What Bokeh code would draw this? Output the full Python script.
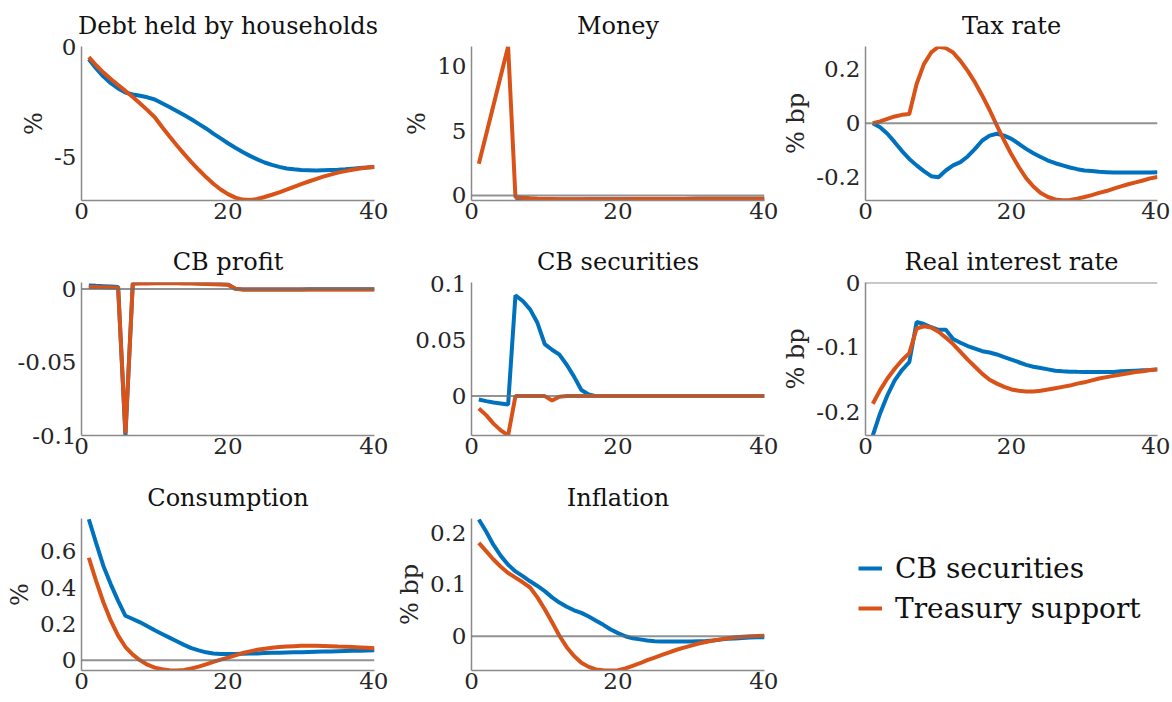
from bokeh.plotting import figure
from bokeh.models import Range1d, FixedTicker, PrintfTickFormatter, Span, Legend, LegendItem
from bokeh.layouts import column, row
from bokeh.embed import file_html
from bokeh.resources import INLINE

NaN = float("nan")

# ---------------- data ----------------
periods = list(range(1, 41))
series_names = ["CB securities", "Treasury support"]
x_ticks = [0, 20, 40]

debt_cb = [-0.58, -0.99, -1.36, -1.66, -1.90, -2.08, -2.17, -2.23, -2.30, -2.40,
           -2.57, -2.74, -2.92, -3.10, -3.29, -3.50, -3.71, -3.94, -4.16, -4.38,
           -4.58, -4.77, -4.95, -5.11, -5.25, -5.36, -5.45, -5.52, -5.56, -5.59,
           -5.60, -5.61, -5.60, -5.59, -5.58, -5.56, -5.53, -5.50, -5.48, -5.45]
debt_ts = [-0.48, -0.85, -1.18, -1.47, -1.74, -2.01, -2.29, -2.58, -2.88, -3.20,
           -3.64, -4.06, -4.47, -4.86, -5.23, -5.58, -5.91, -6.21, -6.47, -6.68,
           -6.84, -6.93, -6.95, -6.90, -6.81, -6.71, -6.60, -6.48, -6.35, -6.23,
           -6.11, -6.00, -5.89, -5.80, -5.71, -5.64, -5.58, -5.52, -5.48, -5.44]

money_cb = [NaN, NaN, NaN, NaN, NaN, -0.38, -0.36, -0.35, -0.34, -0.33,
            -0.33, -0.32, -0.32, -0.31, -0.31, -0.30, -0.30, -0.30, -0.29, -0.29,
            -0.29, -0.28, -0.28, -0.28, -0.28, -0.27, -0.27, -0.27, -0.27, -0.26,
            -0.26, -0.26, -0.26, -0.26, -0.25, -0.25, -0.25, -0.25, -0.25, -0.25]
money_ts = [2.46, 4.73, 7.00, 9.28, 11.55, -0.13, -0.18, -0.22, -0.25, -0.27,
            -0.28, -0.29, -0.30, -0.30, -0.30, -0.30, -0.30, -0.30, -0.29, -0.29,
            -0.29, -0.28, -0.28, -0.28, -0.28, -0.27, -0.27, -0.27, -0.27, -0.27,
            -0.26, -0.26, -0.26, -0.26, -0.26, -0.25, -0.25, -0.25, -0.25, -0.25]

tax_cb = [0.0, -0.015, -0.039, -0.070, -0.103, -0.132, -0.156, -0.177, -0.196, -0.200,
          -0.175, -0.156, -0.144, -0.123, -0.095, -0.064, -0.046, -0.039, -0.046, -0.058,
          -0.076, -0.095, -0.111, -0.125, -0.138, -0.148, -0.156, -0.164, -0.170, -0.175,
          -0.177, -0.180, -0.181, -0.182, -0.182, -0.182, -0.182, -0.182, -0.182, -0.181]
tax_ts = [0.0, 0.007, 0.016, 0.025, 0.031, 0.034, 0.145, 0.219, 0.262, 0.283,
          0.278, 0.262, 0.231, 0.194, 0.151, 0.102, 0.049, -0.009, -0.064, -0.116,
          -0.162, -0.203, -0.234, -0.258, -0.273, -0.282, -0.285, -0.284, -0.279, -0.273,
          -0.266, -0.258, -0.251, -0.242, -0.234, -0.226, -0.219, -0.212, -0.204, -0.199]

profit_cb = [0.0025, 0.0022, 0.0020, 0.0018, 0.0015, -0.1000, 0.0040, 0.0042, 0.0043, 0.0044,
             0.0045, 0.0045, 0.0044, 0.0043, 0.0041, 0.0040, 0.0038, 0.0036, 0.0034, 0.0032,
             0.0003, -0.0002, -0.0002, -0.0002, -0.0002, -0.0002, -0.0002, -0.0002, -0.0002, -0.0002,
             -0.0001, -0.0001, -0.0001, -0.0001, -0.0001, -0.0001, -0.0001, -0.0001, -0.0001, -0.0001]
profit_ts = [0.0015, 0.0014, 0.0013, 0.0011, 0.0009, -0.0985, 0.0036, 0.0038, 0.0039, 0.0040,
             0.0040, 0.0040, 0.0040, 0.0039, 0.0038, 0.0036, 0.0035, 0.0033, 0.0031, 0.0029,
             0.0002, -0.0003, -0.0003, -0.0003, -0.0003, -0.0003, -0.0003, -0.0002, -0.0002, -0.0002,
             -0.0002, -0.0002, -0.0002, -0.0002, -0.0002, -0.0002, -0.0002, -0.0002, -0.0002, -0.0002]

sec_cb = [-0.0030, -0.0045, -0.0057, -0.0066, -0.0075, 0.0900, 0.0850, 0.0775, 0.0655, 0.0465,
          0.0414, 0.0370, 0.0280, 0.0174, 0.0054, 0.0015, 0.0, 0.0, 0.0, 0.0,
          0.0, 0.0, 0.0, 0.0, 0.0, 0.0, 0.0, 0.0, 0.0, 0.0,
          0.0, 0.0, 0.0, 0.0, 0.0, 0.0, 0.0, 0.0, 0.0, 0.0]
sec_ts = [-0.0110, -0.0170, -0.0246, -0.0306, -0.0351, 0.0, 0.0, 0.0, 0.0, 0.0,
          -0.0040, -0.0006, 0.0, 0.0, 0.0, 0.0, 0.0, 0.0, 0.0, 0.0,
          0.0, 0.0, 0.0, 0.0, 0.0, 0.0, 0.0, 0.0, 0.0, 0.0,
          0.0, 0.0, 0.0, 0.0, 0.0, 0.0, 0.0, 0.0, 0.0, 0.0]

rir_cb = [-0.236, -0.202, -0.174, -0.151, -0.135, -0.123, -0.061, -0.064, -0.069, -0.073,
          -0.073, -0.087, -0.093, -0.098, -0.102, -0.106, -0.108, -0.111, -0.115, -0.119,
          -0.123, -0.127, -0.130, -0.132, -0.134, -0.136, -0.137, -0.1375, -0.1378, -0.138,
          -0.138, -0.138, -0.138, -0.138, -0.137, -0.1365, -0.136, -0.1355, -0.135, -0.134]
rir_ts = [-0.187, -0.166, -0.148, -0.133, -0.120, -0.109, -0.071, -0.0675, -0.0695, -0.076,
          -0.085, -0.095, -0.107, -0.119, -0.130, -0.141, -0.150, -0.156, -0.161, -0.165,
          -0.167, -0.168, -0.168, -0.167, -0.165, -0.163, -0.161, -0.159, -0.156, -0.154,
          -0.151, -0.148, -0.146, -0.144, -0.142, -0.140, -0.138, -0.137, -0.135, -0.134]

cons_cb = [0.776, 0.645, 0.518, 0.418, 0.327, 0.245, 0.227, 0.209, 0.187, 0.165,
           0.145, 0.125, 0.105, 0.085, 0.067, 0.055, 0.044, 0.038, 0.035, 0.035,
           0.035, 0.036, 0.037, 0.038, 0.040, 0.041, 0.042, 0.043, 0.044, 0.045,
           0.046, 0.047, 0.048, 0.049, 0.050, 0.051, 0.052, 0.053, 0.054, 0.055]
cons_ts = [0.564, 0.436, 0.318, 0.218, 0.136, 0.073, 0.031, 0.0, -0.024, -0.040,
           -0.049, -0.0545, -0.056, -0.053, -0.045, -0.035, -0.022, -0.009, 0.004, 0.015,
           0.027, 0.040, 0.049, 0.058, 0.064, 0.069, 0.073, 0.076, 0.078, 0.080,
           0.080, 0.080, 0.079, 0.078, 0.076, 0.075, 0.073, 0.071, 0.069, 0.067]

infl_cb = [0.225, 0.202, 0.176, 0.155, 0.138, 0.125, 0.116, 0.106, 0.097, 0.087,
           0.075, 0.065, 0.057, 0.050, 0.045, 0.038, 0.030, 0.022, 0.013, 0.006,
           0.0, -0.004, -0.006, -0.008, -0.0096, -0.010, -0.010, -0.010, -0.010, -0.010,
           -0.0095, -0.009, -0.008, -0.0065, -0.005, -0.0045, -0.0035, -0.0025, -0.002, -0.002]
infl_ts = [0.180, 0.164, 0.148, 0.134, 0.122, 0.113, 0.104, 0.094, 0.075, 0.052,
           0.027, 0.001, -0.021, -0.038, -0.051, -0.059, -0.064, -0.0656, -0.066, -0.0656,
           -0.062, -0.057, -0.052, -0.046, -0.041, -0.036, -0.031, -0.026, -0.022, -0.018,
           -0.014, -0.011, -0.008, -0.006, -0.004, -0.002, -0.001, 0.0, 0.0005, 0.001]

# ---------------- style ----------------
BLUE = "#0072BD"
ORANGE = "#D95319"
FONT = "DejaVu Serif"
TXT = "#262626"
AXC = "#8a8a8a"
LW = 4

# column geometry: (width, min_border_left, min_border_right)
COLS = [(388, 81, 14), (390, 83, 14), (392, 87, 13)]
# row geometry: (height, min_border_top, min_border_bottom)
ROWS = [(236, 46, 36), (236, 46, 37), (228, 46, 30)]


def panel(r, c, title, cb, ts, ylim, yticks, ylabel=None, zero=True):
    w, mbl, mbr = COLS[c]
    h, mbt, mbb = ROWS[r]
    p = figure(width=w, height=h, x_range=Range1d(0, 40), y_range=Range1d(*ylim),
               toolbar_location=None, output_backend="svg",
               min_border_left=mbl, min_border_right=mbr,
               min_border_top=mbt, min_border_bottom=mbb,
               outline_line_color=None, title=title)
    p.xgrid.grid_line_color = None
    p.ygrid.grid_line_color = None
    p.line(periods, cb, line_color=BLUE, line_width=LW)
    p.line(periods, ts, line_color=ORANGE, line_width=LW)
    if zero:
        p.add_layout(Span(location=0, dimension="width", line_color="#6e6e6e",
                          line_alpha=0.75, line_width=2))
    p.title.text_font = FONT
    p.title.text_font_size = "24px"
    p.title.text_font_style = "normal"
    p.title.text_color = "#111111"
    p.title.align = "center"
    p.title.standoff = 13
    p.xaxis.ticker = FixedTicker(ticks=x_ticks)
    p.yaxis.ticker = FixedTicker(ticks=yticks)
    p.yaxis.formatter = PrintfTickFormatter(format="%g")
    for ax in (p.xaxis, p.yaxis):
        ax.axis_line_color = AXC
        ax.axis_line_width = 1.5
        ax.major_tick_line_color = None
        ax.minor_tick_line_color = None
        ax.major_tick_out = 0
        ax.major_tick_in = 0
        ax.minor_tick_out = 0
        ax.minor_tick_in = 0
        ax.major_label_text_font = FONT
        ax.major_label_text_font_size = "23px"
        ax.major_label_text_color = TXT
    p.xaxis.major_label_standoff = 2
    p.yaxis.major_label_standoff = 5
    if ylabel:
        p.yaxis.axis_label = ylabel
        p.yaxis.axis_label_text_font = FONT
        p.yaxis.axis_label_text_font_size = "24px"
        p.yaxis.axis_label_text_font_style = "normal"
        p.yaxis.axis_label_text_color = TXT
        p.yaxis.axis_label_standoff = 3
    return p


p1 = panel(0, 0, "Debt held by households", debt_cb, debt_ts, (-6.97, 0), [-5, 0], "%", zero=False)
p2 = panel(0, 1, "Money", money_cb, money_ts, (-0.39, 11.55), [0, 5, 10], "%")
p3 = panel(0, 2, "Tax rate", tax_cb, tax_ts, (-0.286, 0.284), [-0.2, 0, 0.2], "% bp")
p4 = panel(1, 0, "CB profit", profit_cb, profit_ts, (-0.1, 0.0045), [-0.1, -0.05, 0])
p5 = panel(1, 1, "CB securities", sec_cb, sec_ts, (-0.0352, 0.1015), [0, 0.05, 0.1])
p6 = panel(1, 2, "Real interest rate", rir_cb, rir_ts, (-0.236, 0.0), [-0.2, -0.1, 0], "% bp")
p7 = panel(2, 0, "Consumption", cons_cb, cons_ts, (-0.056, 0.78), [0, 0.2, 0.4, 0.6], "%")
p8 = panel(2, 1, "Inflation", infl_cb, infl_ts, (-0.066, 0.227), [0, 0.1, 0.2], "% bp")

# legend cell (its lines hold the legend glyphs; their points lie outside the visible range)
w9, _, _ = COLS[2]
h9, _, _ = ROWS[2]
p9 = figure(width=w9, height=h9, x_range=Range1d(0, 1), y_range=Range1d(0, 1),
            toolbar_location=None, output_backend="svg", min_border=0,
            outline_line_color=None, x_axis_location=None, y_axis_location=None)
p9.xgrid.grid_line_color = None
p9.ygrid.grid_line_color = None
r_cb = p9.line(x=[-5, -4], y=[-5, -5], line_color=BLUE, line_width=LW)
r_ts = p9.line(x=[-5, -4], y=[-6, -6], line_color=ORANGE, line_width=LW)
legend = Legend(items=[LegendItem(label=series_names[0], renderers=[r_cb]),
                       LegendItem(label=series_names[1], renderers=[r_ts])],
                location=(80, 42), orientation="vertical",
                glyph_width=24, glyph_height=20, label_standoff=13,
                label_height=40, spacing=0, padding=0, margin=0,
                border_line_color=None, background_fill_alpha=0,
                label_text_font=FONT, label_text_font_size="28px",
                label_text_color="#111111")
p9.add_layout(legend)

layout = column(row(p1, p2, p3), row(p4, p5, p6), row(p7, p8, p9))

with open("out.html", "w") as f:
    f.write(file_html(layout, INLINE))
